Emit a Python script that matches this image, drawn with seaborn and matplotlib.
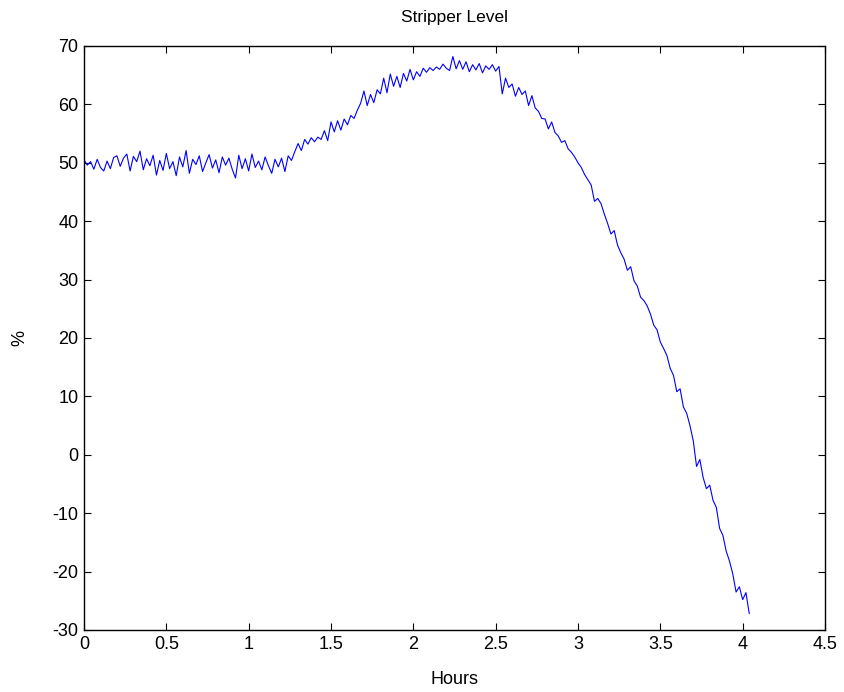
import numpy as np
import pandas as pd
import matplotlib
matplotlib.use("Agg")
import matplotlib.pyplot as plt
import seaborn as sns

# Stripper level (%) sampled every 0.02 hours
level = [
    50.5, 49.6, 50.2, 48.9, 50.6, 49.2, 48.6, 50.3, 49.0, 50.9,
    51.2, 49.4, 50.8, 51.5, 48.6, 51.1, 50.2, 52.0, 48.8, 50.7,
    49.5, 51.3, 47.9, 50.4, 48.7, 51.6, 49.0, 50.2, 47.8, 51.0,
    49.3, 52.1, 48.2, 50.6, 49.7, 51.2, 48.5, 50.0, 51.4, 49.1,
    50.5, 48.3, 51.0, 49.6, 50.8, 48.9, 47.4, 51.3, 49.0, 50.7,
    48.6, 51.5, 49.2, 50.3, 48.8, 51.0, 49.5, 48.2, 50.6, 49.3,
    50.8, 48.5, 51.2, 50.4, 51.9, 53.3, 52.1, 54.0, 53.2, 54.3,
    53.6, 54.4, 54.0, 55.5, 53.8, 57.0, 55.3, 57.2, 55.6, 57.5,
    56.5, 58.1, 57.6, 59.0, 60.2, 62.3, 59.8, 61.7, 60.3, 62.5,
    61.8, 64.5, 62.0, 65.2, 63.1, 64.8, 62.9, 65.3, 64.0, 66.0,
    64.2, 65.6, 64.8, 66.2, 65.5, 66.3, 65.8, 66.4, 66.0, 66.9,
    66.2, 65.8, 68.2, 66.1, 67.5, 66.0, 67.3, 65.6, 66.8, 65.9,
    67.0, 65.4, 66.6, 66.0, 66.8, 65.7, 66.5, 61.8, 64.5, 62.9,
    63.5, 61.4, 62.9, 61.7, 62.3, 59.8, 61.5, 59.4, 58.8, 57.6,
    57.5, 55.8, 57.0, 55.2, 54.6, 53.5, 53.8, 52.4, 51.8, 51.0,
    50.0, 49.2, 48.0, 47.1, 46.2, 43.4, 43.9, 43.0, 41.2, 39.6,
    37.8, 38.4, 35.9, 34.6, 33.5, 31.6, 32.2, 29.8, 28.9, 27.0,
    26.4, 25.5, 24.1, 22.2, 21.4, 19.3, 18.2, 17.0, 14.8, 13.6,
    10.8, 11.3, 8.2, 7.1, 5.0, 2.4, -2.0, -0.8, -3.9, -5.8,
    -5.2, -7.8, -9.0, -12.6, -13.8, -16.5, -18.2, -20.4, -23.5, -22.6,
    -24.8, -23.6, -27.2,
]
hours = np.linspace(0.0, 4.04, len(level))

x_ticks = [0, 0.5, 1, 1.5, 2, 2.5, 3, 3.5, 4, 4.5]
x_tick_labels = ["0", "0.5", "1", "1.5", "2", "2.5", "3", "3.5", "4", "4.5"]
y_ticks = [-30, -20, -10, 0, 10, 20, 30, 40, 50, 60, 70]
y_tick_labels = [str(v) for v in y_ticks]

df = pd.DataFrame({"Hours": hours, "Level": level})

sns.set_style("ticks")
plt.rcParams["font.family"] = ["Liberation Sans", "DejaVu Sans"]
plt.rcParams["text.color"] = "black"
plt.rcParams["axes.labelcolor"] = "black"

fig = plt.figure(figsize=(8.45, 6.92), dpi=100)
ax = fig.add_axes([84 / 845, 1 - 630 / 692, (825 - 84) / 845, (630 - 46) / 692])

sns.lineplot(data=df, x="Hours", y="Level", ax=ax, color="#0000ff",
             linewidth=0.8, estimator=None)

ax.set_xlim(0, 4.5)
ax.set_ylim(-30, 70)
ax.set_xticks(x_ticks)
ax.set_xticklabels(x_tick_labels)
ax.set_yticks(y_ticks)
ax.set_yticklabels(y_tick_labels)
ax.tick_params(direction="in", length=5, width=0.8, top=True, right=True,
               labelsize=13, colors="black", pad=4)
for s in ax.spines.values():
    s.set_visible(True)
    s.set_linewidth(1.0)
    s.set_color("black")

ax.set_xlabel("Hours", fontsize=13, labelpad=13, color="black")
ax.set_ylabel("%", fontsize=13, labelpad=17, color="black")
ax.set_title("Stripper Level", fontsize=12.5, pad=17, color="black")

fig.savefig("out.png", dpi=100, facecolor="white")
